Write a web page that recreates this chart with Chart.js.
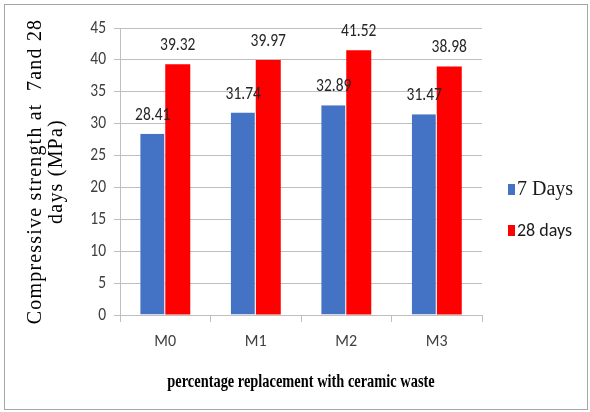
<!DOCTYPE html>
<html>
<head>
<meta charset="utf-8">
<script src="https://cdn.jsdelivr.net/npm/chart.js@4.4.1/dist/chart.umd.min.js"></script>
<style>
  html, body { margin: 0; padding: 0; background: #fff; }
  #wrap { position: relative; width: 590px; height: 412px; }
</style>
</head>
<body>
<div id="wrap"><canvas id="c" width="590" height="412"></canvas></div>
<script>
// Mix designs and compressive strength results (MPa)
const mixes = ['M0', 'M1', 'M2', 'M3'];
const strength7 = [28.41, 31.74, 32.89, 31.47];
const strength28 = [39.32, 39.97, 41.52, 38.98];
const seriesNames = ['7 Days', '28 days'];
const yTicks = [0, 5, 10, 15, 20, 25, 30, 35, 40, 45];

const sansFont = 'Carlito, "Liberation Sans Narrow", Lato, "Liberation Sans", sans-serif';
const serifFont = '"Liberation Serif", "Times New Roman", serif';

// Horizontally condense whatever a draw function renders, around x = cx
function condensed(ctx, cx, factor, fn) {
  ctx.save();
  ctx.translate(cx, 0);
  ctx.scale(factor, 1);
  ctx.translate(-cx, 0);
  fn();
  ctx.restore();
}

// Light grey frame around the whole figure
const framePlugin = {
  id: 'frame',
  beforeDraw(chart) {
    const ctx = chart.ctx;
    ctx.save();
    ctx.fillStyle = '#fff';
    ctx.fillRect(0, 0, chart.width, chart.height);
    ctx.strokeStyle = '#a6a6a6';
    ctx.lineWidth = 1;
    ctx.strokeRect(4.5, 4.5, 583, 405);
    ctx.restore();
  }
};

// Narrow lettering for axis titles and y tick labels
const axisText = {
  id: 'axisText',
  afterUpdate(chart) {
    const x = chart.scales.x, y = chart.scales.y;
    if (!x._narrowTitle) {
      const orig = x.drawTitle;
      x.drawTitle = function () {
        const cx = (this.left + this.right) / 2;
        condensed(this.ctx, cx, 0.8, () => orig.call(this));
      };
      x._narrowTitle = true;
    }
    if (!y._narrowText) {
      const origTitle = y.drawTitle;
      y.drawTitle = function () {
        const ctx = this.ctx;
        const prev = ctx.letterSpacing;
        ctx.letterSpacing = '1.2px';
        origTitle.call(this);
        ctx.letterSpacing = prev || '0px';
      };
      const origLabels = y.drawLabels;
      y.drawLabels = function (area) {
        const edge = this.right - this.options.grid.tickLength - this.options.ticks.padding;
        condensed(this.ctx, edge, 0.86, () => origLabels.call(this, area));
      };
      y._narrowText = true;
    }
  }
};

// Value labels above every bar
const valueLabels = {
  id: 'valueLabels',
  afterDatasetsDraw(chart) {
    const ctx = chart.ctx;
    ctx.save();
    ctx.font = '18px ' + sansFont;
    ctx.fillStyle = '#262626';
    ctx.textAlign = 'center';
    ctx.textBaseline = 'alphabetic';
    chart.data.datasets.forEach((ds, di) => {
      chart.getDatasetMeta(di).data.forEach((bar, i) => {
        condensed(ctx, bar.x, 0.86, () => ctx.fillText(ds.data[i].toFixed(2), bar.x, bar.y - 14));
      });
    });
    ctx.restore();
  }
};

// Legend on the right, one entry per series
const sideLegend = {
  id: 'sideLegend',
  afterDraw(chart) {
    const ctx = chart.ctx;
    const fonts = ['20px ' + serifFont, '18px ' + sansFont];
    const rows = [190, 231];
    ctx.save();
    ctx.textBaseline = 'middle';
    ctx.textAlign = 'left';
    chart.data.datasets.forEach((ds, i) => {
      ctx.fillStyle = ds.backgroundColor;
      ctx.fillRect(508, rows[i] - 6, 7, 11);
      ctx.fillStyle = '#1a1a1a';
      ctx.font = fonts[i];
      ctx.fillText(ds.label, 517, rows[i]);
    });
    ctx.restore();
  }
};

new Chart(document.getElementById('c'), {
  type: 'bar',
  data: {
    labels: mixes,
    datasets: [
      { label: seriesNames[0], data: strength7, backgroundColor: '#4472C4',
        borderColor: '#ffffff', borderWidth: { right: 1 }, borderSkipped: false },
      { label: seriesNames[1], data: strength28, backgroundColor: '#FF0000',
        borderColor: '#ffffff', borderWidth: 0 }
    ]
  },
  options: {
    responsive: false,
    animation: false,
    devicePixelRatio: 1,
    layout: { padding: { left: 0, right: 108, top: 28, bottom: 0 } },
    datasets: { bar: { categoryPercentage: 0.553, barPercentage: 1.0 } },
    plugins: {
      legend: { display: false },
      tooltip: { enabled: false }
    },
    scales: {
      x: {
        offset: true,
        grid: { offset: true, drawOnChartArea: false, drawTicks: true, tickLength: 7, color: '#bfbfbf' },
        border: { color: '#bfbfbf' },
        ticks: { color: '#404040', font: { family: sansFont, size: 16 }, padding: 10 },
        title: {
          display: true,
          text: 'percentage replacement with ceramic waste',
          color: '#000',
          font: { family: serifFont, size: 18, weight: 'bold', lineHeight: 1.2 },
          padding: { top: 0, bottom: 19 }
        },
        afterFit(scale) { scale.height = 97; }
      },
      y: {
        min: 0,
        max: 45,
        afterBuildTicks(scale) { scale.ticks = yTicks.map(v => ({ value: v })); },
        grid: { color: '#bfbfbf', tickLength: 6 },
        border: { color: '#bfbfbf' },
        ticks: { color: '#404040', font: { family: sansFont, size: 18 }, padding: 8 },
        title: {
          display: true,
          text: ['Compressive strength at  7and 28', 'days (MPa)'],
          color: '#000',
          font: { family: serifFont, size: 20, lineHeight: 1.05 },
          padding: { top: 25, bottom: 0 }
        },
        afterFit(scale) { scale.width = 120; }
      }
    }
  },
  plugins: [framePlugin, axisText, valueLabels, sideLegend]
});
</script>
</body>
</html>
